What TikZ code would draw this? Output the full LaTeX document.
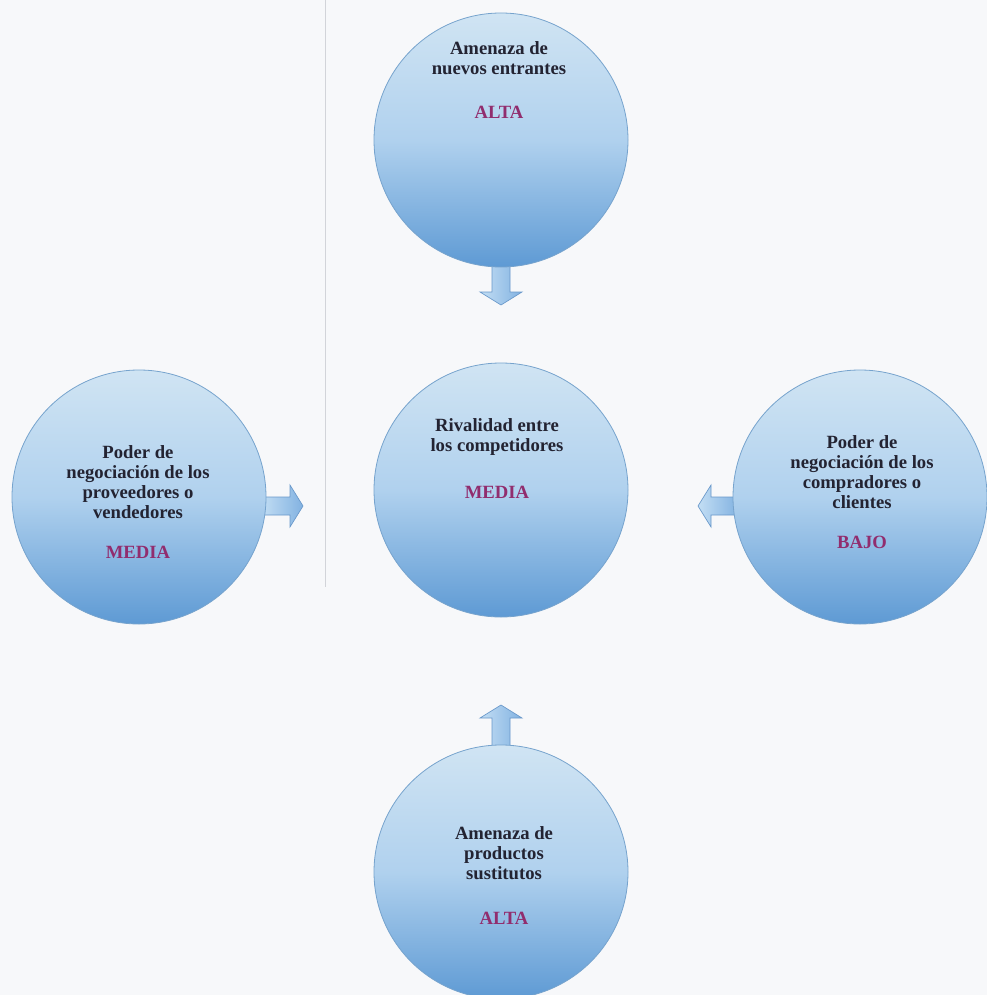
\documentclass[tikz,border=0pt]{standalone}
\usepackage{fontspec}
\setmainfont{Liberation Serif}
\usetikzlibrary{calc}
\definecolor{bgc}{RGB}{247,248,250}
\definecolor{ctop}{RGB}{208,228,243}
\definecolor{cmid}{RGB}{176,209,238}
\definecolor{cbot}{RGB}{94,154,212}
\definecolor{cedge}{RGB}{118,163,205}
\definecolor{txt}{RGB}{35,35,50}
\definecolor{lab}{RGB}{145,45,110}
\definecolor{arrdark}{RGB}{130,178,225}
\definecolor{arrlight}{RGB}{195,222,244}
\definecolor{arredge}{RGB}{105,152,202}
\definecolor{vline}{RGB}{210,212,217}
\newcommand\blockarr[3]{%
  \begin{scope}[shift={#1}, rotate=#2]
    \path[blockarrow] (0,-9) -- (#3-13,-9) -- (#3-13,-21) -- (#3,0) -- (#3-13,21) -- (#3-13,9) -- (0,9) -- cycle;
  \end{scope}}
\begin{document}
\begin{tikzpicture}[x=0.75pt,y=-0.75pt,
  force/.style={circle, minimum size=190.5pt, inner sep=0pt, draw=cedge, line width=0.6pt,
    top color=ctop, bottom color=cbot, middle color=cmid},
  blockarrow/.style={draw=arredge, line width=0.5pt, left color=arrlight, right color=arrdark},
  lbl/.style={font=\bfseries\fontsize{14}{15}\selectfont, text=txt, align=center, inner sep=0pt},
  lvl/.style={font=\bfseries\fontsize{14}{15}\selectfont, text=lab, inner sep=0pt}]
\useasboundingbox (0,0) rectangle (987,995);
\fill[bgc] (0,0) rectangle (987,995);
\draw[vline, line width=0.5pt] (325,0) -- (325,587);

\coordinate (ctop) at (501,140);
\coordinate (cmidc) at (501,490);
\coordinate (cleft) at (139,497);
\coordinate (cright) at (860,497);
\coordinate (cbotc) at (501,872);

% arrows (behind circles)
\blockarr{($(ctop)+(0,122)$)}{-90}{43}
\blockarr{($(cleft)+(122,9)$)}{0}{42}
\blockarr{($(cright)+(-122,9)$)}{180}{40}
\blockarr{($(cbotc)+(0,-122)$)}{90}{45}

\node[force] (top) at (ctop) {};
\node[force] (mid) at (cmidc) {};
\node[force] (left) at (cleft) {};
\node[force] (right) at (cright) {};
\node[force] (bot) at (cbotc) {};

\node[lbl] (topt) at (499,58) {Amenaza de\\nuevos entrantes};
\node[lvl] (topl) at (499,112) {ALTA};

\node[lbl] (midt) at (497,437) {Rivalidad entre\\los competidores};
\node[lvl] (midl) at (497,492) {MEDIA};

\node[lbl] (leftt) at (138,482) {Poder de\\negociación de los\\proveedores o\\vendedores};
\node[lvl] (leftl) at (138,552) {MEDIA};

\node[lbl] (rightt) at (862,472) {Poder de\\negociación de los\\compradores o\\clientes};
\node[lvl] (rightl) at (862,542) {BAJO};

\node[lbl] (bott) at (504,853) {Amenaza de\\productos\\sustitutos};
\node[lvl] (botl) at (504,918) {ALTA};
\end{tikzpicture}
\end{document}
